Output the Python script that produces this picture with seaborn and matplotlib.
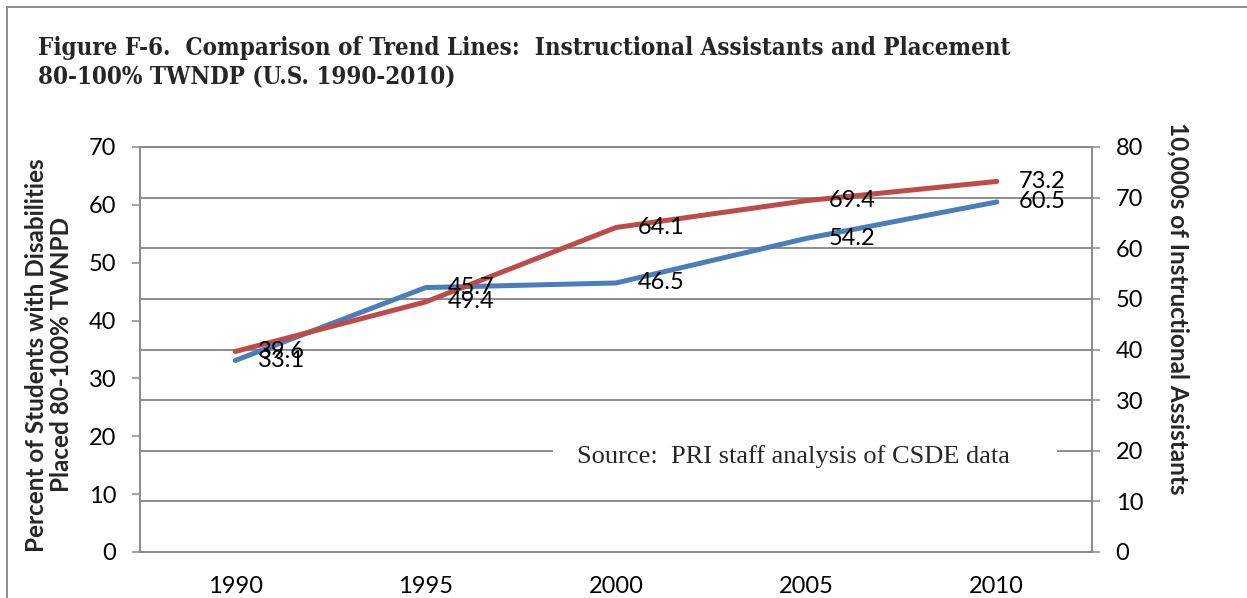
import matplotlib
matplotlib.use("Agg")
import matplotlib.pyplot as plt
import seaborn as sns
from matplotlib.ticker import FixedLocator
from matplotlib.patches import Rectangle

# ---- data ----
years = [1990, 1995, 2000, 2005, 2010]
pct_placed = [33.1, 45.7, 46.5, 54.2, 60.5]          # left axis (percent)
assistants = [39.6, 49.4, 64.1, 69.4, 73.2]          # right axis (10,000s)
left_ticks = [0, 10, 20, 30, 40, 50, 60, 70]
right_ticks = [0, 10, 20, 30, 40, 50, 60, 70, 80]
year_labels = ["1990", "1995", "2000", "2005", "2010"]

title = ("Figure F-6.  Comparison of Trend Lines:  Instructional Assistants and Placement\n"
         "80-100% TWNDP (U.S. 1990-2010)")
left_label = "Percent of Students with Disabilities\nPlaced 80-100% TWNPD"
right_label = "10,000s of Instructional Assistants"
source = "Source:  PRI staff analysis of CSDE data"

BLUE = "#4A7EBB"
RED = "#BE4B48"
GRID = "#8C8C8C"
TICK_FS = 17

sns.set_style("white")
plt.rcParams["font.family"] = ["Lato", "DejaVu Sans"]

W, H = 1247, 598
fig = plt.figure(figsize=(W / 100, H / 100), dpi=100)
ax = fig.add_axes([140 / W, 46 / H, 952 / W, 405 / H])
ax2 = ax.twinx()

sns.lineplot(x=years, y=pct_placed, ax=ax, color=BLUE, lw=3.6,
             solid_capstyle="round", solid_joinstyle="round")
sns.lineplot(x=years, y=assistants, ax=ax2, color=RED, lw=3.6,
             solid_capstyle="round", solid_joinstyle="round")

ax.set_xlim(1987.5, 2012.5)
ax.set_ylim(0, 70)
ax2.set_ylim(0, 80)
ax.set_yticks(left_ticks)
ax2.set_yticks(right_ticks)
ax.set_xticks(years)
ax.set_xticklabels(year_labels)

# gridlines at the right-axis ticks
ax.yaxis.set_minor_locator(FixedLocator([v * 70 / 80 for v in right_ticks[1:-1]]))
ax.grid(False)
ax2.grid(False)
ax.grid(which="minor", axis="y", color=GRID, lw=1.4)
ax.tick_params(which="minor", length=0)

for a in (ax, ax2):
    for s in a.spines.values():
        s.set_color(GRID)
        s.set_linewidth(1.4)
    a.set_xlabel("")
    a.set_ylabel("")

ax.tick_params(axis="y", left=True, length=6, width=1.1, color=GRID, pad=11,
               labelsize=TICK_FS, labelcolor="black")
ax.tick_params(axis="x", bottom=False, length=0, pad=17, labelsize=TICK_FS, labelcolor="black")
ax2.tick_params(axis="y", right=True, length=6, width=1.1, color=GRID, pad=11,
                labelsize=TICK_FS, labelcolor="black")

# data labels (all on top axes so they sit above both lines)
for x, v in zip(years, pct_placed):
    ax2.annotate(f"{v}", xy=(x, v), xycoords=ax.transData, xytext=(16, 0),
                 textcoords="offset points", ha="left", va="center",
                 fontsize=TICK_FS, color="black", zorder=6)
for x, v in zip(years, assistants):
    ax2.annotate(f"{v}", xy=(x, v), xytext=(16, 0),
                 textcoords="offset points", ha="left", va="center",
                 fontsize=TICK_FS, color="black", zorder=6)

# source box
ax2.add_patch(Rectangle(((553 - 140) / 952, (552 - 472) / 405), (1057 - 553) / 952, 34 / 405,
                        transform=ax2.transAxes, facecolor="white", edgecolor="none", zorder=3))
ax2.text((577 - 140) / 952, (552 - 457) / 405, source, transform=ax2.transAxes,
         family="Liberation Serif", fontsize=19, ha="left", va="center", zorder=4)

# axis titles
fig.text(49 / W, 1 - 355 / H, left_label, rotation=90, ha="center", va="center",
         fontsize=17.5, fontweight="bold", linespacing=1.15)
fig.text(1178 / W, 1 - 308 / H, right_label, rotation=-90, ha="center", va="center",
         fontsize=17.5, fontweight="bold")

# chart title
fig.text(38 / W, 1 - 36 / H, title, ha="left", va="top", family="DejaVu Serif",
         fontstretch="condensed", fontsize=17.3, fontweight="bold", linespacing=1.3)

# outer chart border
fig.add_artist(Rectangle((7 / W, -0.1), 1.2, 1 - 7 / H + 0.1, transform=fig.transFigure,
                         fill=False, edgecolor=GRID, lw=1.4))

fig.savefig("out.png", dpi=100)
